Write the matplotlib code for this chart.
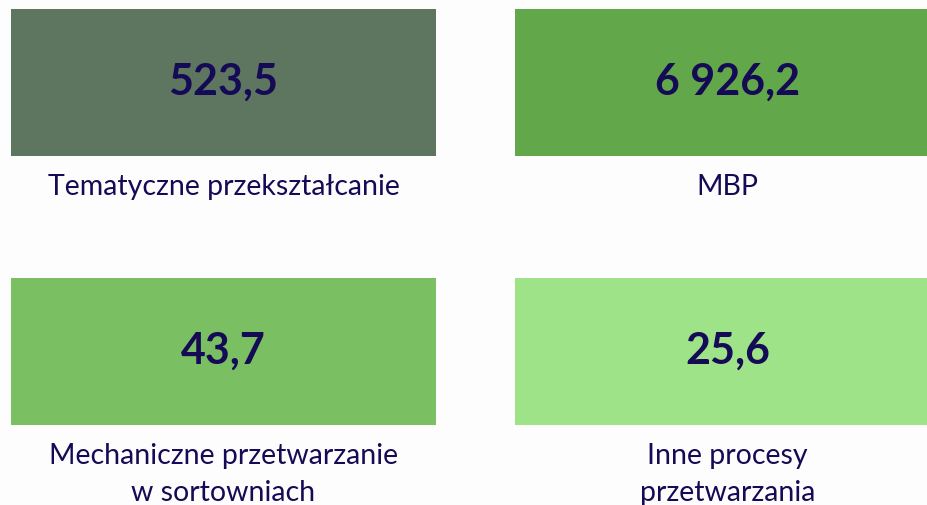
import matplotlib.pyplot as plt
from matplotlib.patches import Rectangle

# tile data
labels = ["Tematyczne przekształcanie", "MBP",
          "Mechaniczne przetwarzanie\nw sortowniach", "Inne procesy\nprzetwarzania"]
values = [523.5, 6926.2, 43.7, 25.6]
tile_colors = ["#5e7660", "#62a84a", "#7bbf63", "#9fe388"]

text_color = "#150a55"
bg_color = "#fdfdfd"


def fmt_pl(v):
    # polish number format: space as thousands separator, comma decimal
    s = "{:,.1f}".format(v)
    return s.replace(",", " ").replace(".", ",")


W, H = 928, 506
fig = plt.figure(figsize=(W / 100, H / 100), dpi=100, facecolor=bg_color)
ax = fig.add_axes([0, 0, 1, 1])
ax.set_xlim(0, W)
ax.set_ylim(H, 0)
ax.axis("off")

# grid of tiles (left, top) in pixel space
tile_w, tile_h = 425, 147
origins = [(11, 10), (515, 10), (11, 279), (515, 279)]

for (x0, y0), lab, val, col in zip(origins, labels, values, tile_colors):
    ax.add_patch(Rectangle((x0, y0), tile_w, tile_h, facecolor=col,
                           edgecolor="none"))
    cx = x0 + tile_w / 2
    ax.text(cx, y0 + tile_h / 2 + 11, fmt_pl(val), ha="center", va="baseline",
            fontsize=31, fontweight="bold", family="Lato", color=text_color)
    for i, line in enumerate(lab.split("\n")):
        ax.text(cx, y0 + tile_h + 38 + i * 37, line, ha="center",
                va="baseline", fontsize=20.5, family="Lato", color=text_color)

fig.savefig("out.png", dpi=100, facecolor=bg_color)
